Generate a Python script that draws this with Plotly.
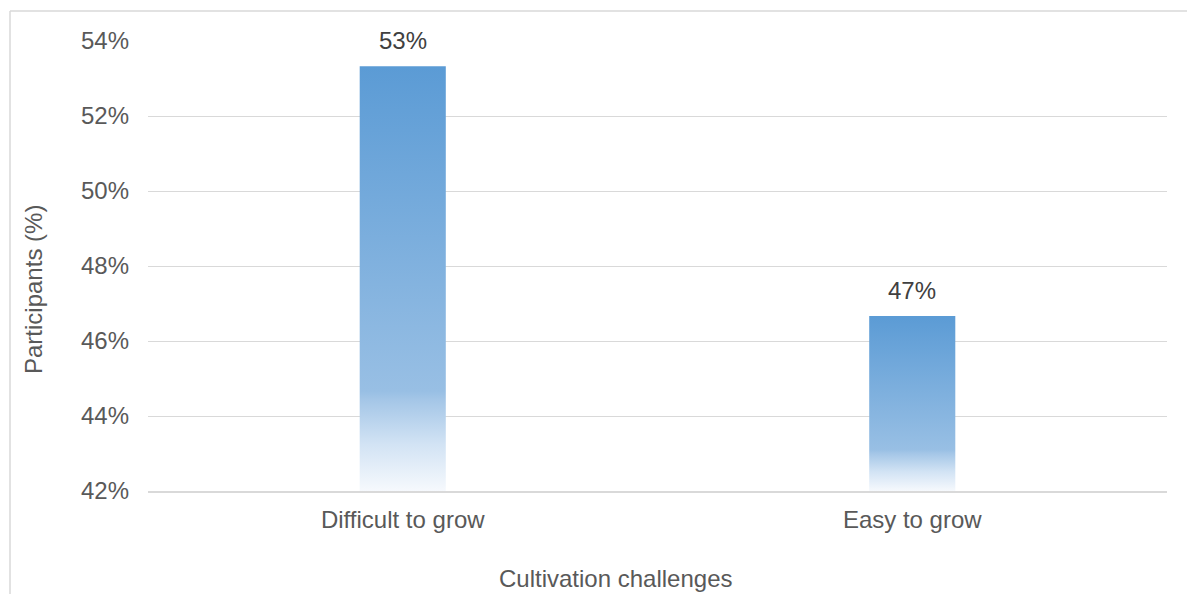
import plotly.graph_objects as go

# ---- data ----
categories = ["Difficult to grow", "Easy to grow"]
values = [53.33, 46.67]          # participants (%)
labels = ["53%", "47%"]
y_ticks = [42, 44, 46, 48, 50, 52, 54]

# ---- style ----
BASE = 42
BAR_WIDTH = 0.169
FONT = "Liberation Sans, Arial, sans-serif"
FS = 24
TEXT = "#595959"
GRID = "#D9D9D9"
colorscale = [
    [0.0, "#F6F9FD"],
    [0.11, "#D2E3F4"],
    [0.215, "#A4C6E7"],
    [0.235, "#98BFE4"],
    [1.0, "#5B9BD5"],
]

W, H = 1187, 594
ML, MR, MT, MB = 148, 20, 41, 103
pw, ph = W - ML - MR, H - MT - MB

fig = go.Figure()

for i, (cat, v) in enumerate(zip(categories, values)):
    x0, x1 = i - BAR_WIDTH / 2, i + BAR_WIDTH / 2
    fig.add_trace(go.Scatter(
        x=[x0, x1, x1, x0, x0],
        y=[BASE, BASE, v, v, BASE],
        mode="lines",
        line=dict(width=0, color="rgba(0,0,0,0)"),
        fill="toself",
        fillgradient=dict(type="vertical", colorscale=colorscale, start=BASE, stop=v),
        name=cat,
        hoverinfo="skip",
        showlegend=False,
    ))

for i, (v, lab) in enumerate(zip(values, labels)):
    fig.add_annotation(
        x=i, y=v, text=lab, showarrow=False, yanchor="bottom", yshift=10,
        font=dict(family=FONT, size=FS, color="#404040"),
    )

# axis titles (centered on chart area like Excel)
fig.add_annotation(
    x=(615 - ML) / pw, y=-(578 - MT - ph) / ph, xref="paper", yref="paper",
    text="Cultivation challenges", showarrow=False, yanchor="middle",
    font=dict(family=FONT, size=FS, color=TEXT),
)
fig.add_annotation(
    x=(33 - ML) / pw, y=1 - (290 - MT) / ph, xref="paper", yref="paper",
    text="Participants (%)", showarrow=False, textangle=-90, xanchor="center",
    font=dict(family=FONT, size=FS, color=TEXT),
)

# chart-area border (left and top edges visible)
bx = (10 - ML) / pw
by = 1 + (MT - 11) / ph
fig.add_shape(type="line", xref="paper", yref="paper", x0=bx, x1=bx, y0=by, y1=-0.5,
              line=dict(color="#D9D9D9", width=1.5))
fig.add_shape(type="line", xref="paper", yref="paper", x0=bx, x1=1.2, y0=by, y1=by,
              line=dict(color="#D9D9D9", width=1.5))

fig.update_xaxes(
    range=[-0.5, 1.5], tickvals=list(range(len(categories))), ticktext=categories,
    showgrid=False, zeroline=False, showline=True, linecolor=GRID, linewidth=1.5,
    ticks="", ticklabelstandoff=6,
    tickfont=dict(family=FONT, size=FS, color=TEXT), fixedrange=True,
)
fig.update_yaxes(
    range=[42, 54], tickvals=y_ticks, ticktext=[f"{t}%" for t in y_ticks],
    showgrid=True, gridcolor=GRID, gridwidth=1, zeroline=False, showline=False,
    ticks="", ticklabelstandoff=18,
    tickfont=dict(family=FONT, size=FS, color=TEXT), fixedrange=True,
)

fig.update_layout(
    width=W, height=H,
    margin=dict(l=ML, r=MR, t=MT, b=MB),
    paper_bgcolor="white", plot_bgcolor="white",
    showlegend=False,
)

fig.write_html("out.html")
